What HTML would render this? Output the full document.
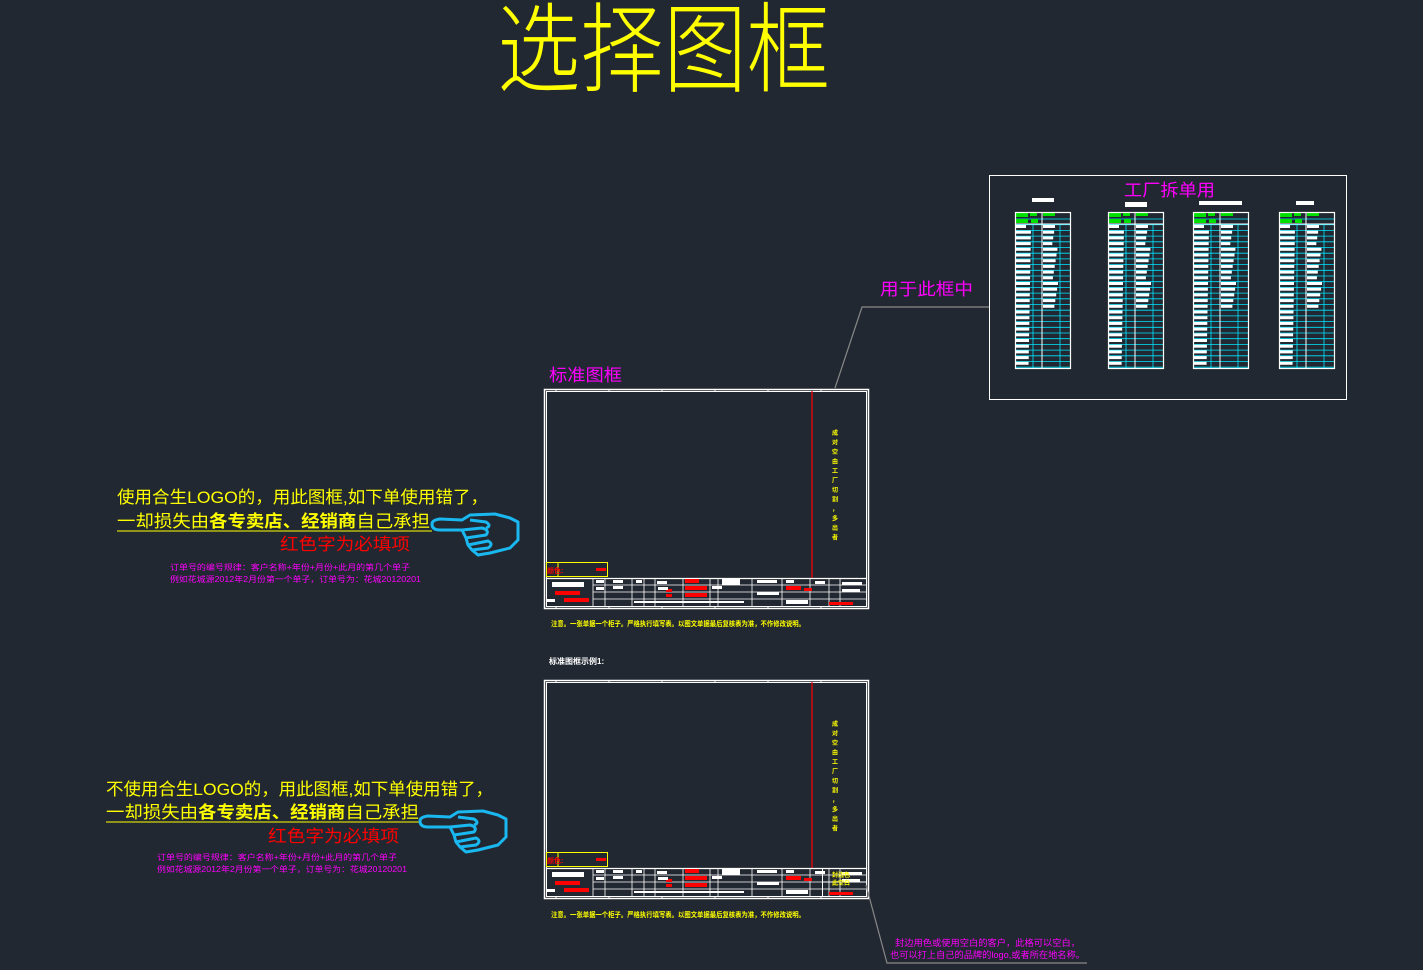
<!DOCTYPE html>
<html><head><meta charset="utf-8"><style>
html,body{margin:0;padding:0;background:#222831;width:1423px;height:970px;overflow:hidden}
svg{display:block}
text{font-family:"Liberation Sans","Noto Sans CJK SC",sans-serif}
</style></head><body>
<svg id="s" width="1423" height="970" xmlns="http://www.w3.org/2000/svg">
<rect width="1423" height="970" fill="#222831"/>
<text x="497" y="84" font-size="98" fill="#ffff00" font-family="Noto Sans CJK SC,sans-serif" font-weight="300" textLength="333" lengthAdjust="spacingAndGlyphs">选择图框</text>

<rect x="989.5" y="175.5" width="357" height="224" fill="none" stroke="#fff" stroke-width="1"/>
<text x="1124" y="196" font-size="17" fill="#ff00ff" font-family="Noto Sans CJK SC,sans-serif" textLength="91" lengthAdjust="spacingAndGlyphs">工厂拆单用</text>
<rect x="1032" y="198" width="22" height="4" fill="#fff"/>
<rect x="1125" y="202" width="22" height="5" fill="#fff"/>
<rect x="1199" y="201" width="43" height="4" fill="#fff"/>
<rect x="1296" y="201" width="18" height="4" fill="#fff"/>
<g id="tables"></g>

<text x="880" y="295" font-size="17" fill="#ff00ff" font-family="Noto Sans CJK SC,sans-serif" textLength="93" lengthAdjust="spacingAndGlyphs">用于此框中</text>
<polyline points="989,307 862,307 835,388" fill="none" stroke="#888" stroke-width="1.2"/>
<text x="549" y="381" font-size="17" fill="#ff00ff" font-family="Noto Sans CJK SC,sans-serif" textLength="73" lengthAdjust="spacingAndGlyphs">标准图框</text>

<g id="frames"></g>

<text x="551" y="626" font-size="7" fill="#ffff00" font-weight="bold" textLength="254" lengthAdjust="spacingAndGlyphs">注意。一张单据一个柜子。严格执行填写表。以图文单据最后复核表为准，不作修改说明。</text>
<text x="549" y="664" font-size="8" fill="#fff" font-weight="bold">标准图框示例1:</text>
<text x="551" y="917" font-size="7" fill="#ffff00" font-weight="bold" textLength="254" lengthAdjust="spacingAndGlyphs">注意。一张单据一个柜子。严格执行填写表。以图文单据最后复核表为准，不作修改说明。</text>

<g font-family="Noto Sans CJK SC,sans-serif">
<text x="117" y="503" font-size="17" fill="#ffff00" textLength="371" lengthAdjust="spacingAndGlyphs">使用合生LOGO的，用此图框,如下单使用错了，</text>
<text x="117" y="527" font-size="17" fill="#ffff00" textLength="313" lengthAdjust="spacingAndGlyphs">一却损失由<tspan font-weight="bold">各专卖店、经销商</tspan>自己承担</text>
<line x1="117" y1="531" x2="432" y2="531" stroke="#ffff00"/>
<text x="280" y="550" font-size="17" fill="#ff0000" textLength="130" lengthAdjust="spacingAndGlyphs">红色字为必填项</text>
<text x="170" y="570" font-size="8" fill="#ff00ff" textLength="240" lengthAdjust="spacingAndGlyphs">订单号的编号规律：客户名称+年份+月份+此月的第几个单子</text>
<text x="170" y="582" font-size="8" fill="#ff00ff" textLength="251" lengthAdjust="spacingAndGlyphs">例如花城源2012年2月份第一个单子，订单号为：花城20120201</text>

<text x="106" y="795" font-size="17" fill="#ffff00" textLength="387" lengthAdjust="spacingAndGlyphs">不使用合生LOGO的，用此图框,如下单使用错了，</text>
<text x="106" y="818" font-size="17" fill="#ffff00" textLength="313" lengthAdjust="spacingAndGlyphs">一却损失由<tspan font-weight="bold">各专卖店、经销商</tspan>自己承担</text>
<line x1="106" y1="822" x2="420" y2="822" stroke="#ffff00"/>
<text x="268" y="842" font-size="17" fill="#ff0000" textLength="131" lengthAdjust="spacingAndGlyphs">红色字为必填项</text>
<text x="157" y="860" font-size="8" fill="#ff00ff" textLength="240" lengthAdjust="spacingAndGlyphs">订单号的编号规律：客户名称+年份+月份+此月的第几个单子</text>
<text x="157" y="872" font-size="8" fill="#ff00ff" textLength="250" lengthAdjust="spacingAndGlyphs">例如花城源2012年2月份第一个单子，订单号为：花城20120201</text>

<text x="895" y="946" font-size="9" fill="#ff00ff" textLength="185" lengthAdjust="spacingAndGlyphs">封边用色或使用空白的客户，此格可以空白，</text>
<text x="890" y="958" font-size="9" fill="#ff00ff" textLength="195" lengthAdjust="spacingAndGlyphs">也可以打上自己的品牌的logo,或者所在地名称。</text>
</g>
<polyline points="866,885 887,963 1087,963" fill="none" stroke="#888" stroke-width="1.2"/>

<g id="hand1" fill="none" stroke="#1ab8f0" stroke-width="3" stroke-linejoin="round">
<path d="M432,524 Q432,520 440,519 L462,520 L470,515 L495,514 L510,518 L518,522 L518,540 L510,548 L490,553 L478,555 L472,550 L468,545 L466,538 L462,530 L440,530 Q432,530 432,524 Z"/>
<path d="M462,530 L482,528 Q490,530 486,535 L466,538"/><path d="M468,545 L488,541 Q494,544 488,548 L472,550"/><path d="M470,520 L486,522 Q492,526 486,528"/>
</g>
<use href="#hand1" transform="translate(-12,297)"/>
</svg>
<script>
const NS="http://www.w3.org/2000/svg";
function R(p,x,y,w,h,f,s,sw){const r=document.createElementNS(NS,"rect");r.setAttribute("x",x);r.setAttribute("y",y);r.setAttribute("width",w);r.setAttribute("height",h);r.setAttribute("fill",f||"none");if(s){r.setAttribute("stroke",s);r.setAttribute("stroke-width",sw||1)}p.appendChild(r);}
function L(p,x1,y1,x2,y2,c,w){const l=document.createElementNS(NS,"line");l.setAttribute("x1",x1);l.setAttribute("y1",y1);l.setAttribute("x2",x2);l.setAttribute("y2",y2);l.setAttribute("stroke",c);l.setAttribute("stroke-width",w||1);p.appendChild(l);}
function T(p,x,y,t,s,c){const e=document.createElementNS(NS,"text");e.setAttribute("x",x);e.setAttribute("y",y);e.setAttribute("font-size",s);e.setAttribute("fill",c);e.setAttribute("font-weight","bold");e.textContent=t;p.appendChild(e);}
const tg=document.getElementById("tables");
[1015,1108,1193,1279].forEach(x=>{
  const w=55,y0=212,y1=368;
  for(let y=y0+7;y<y1;y+=5.7){L(tg,x,y,x+w,y,"#00e5ff",0.8);}
  L(tg,x+18,y0+12,x+18,y1,"#00e5ff",0.8);L(tg,x+45,y0+12,x+45,y1,"#00e5ff",0.8);
  R(tg,x+1,y0+1,12,4,"#00e000");R(tg,x+15,y0+1,7,3,"#00e000");R(tg,x+28,y0+1,12,3,"#00e000");R(tg,x+1,y0+7,12,4,"#00e000");R(tg,x+16,y0+7,7,4,"#00e000");
  for(let y=y0+13;y<y1-3;y+=5.7){R(tg,x+1,y,10+((y*7)%5),3,"#fff");if(y<y1-60)R(tg,x+28,y,9+((y*3)%6),3,"#fff");}
  R(tg,x+0.5,y0+0.5,w,y1-y0,"none","#fff",1.2);
  L(tg,x,y0+12,x+w,y0+12,"#fff",1);L(tg,x+27,y0,x+27,y1,"#fff",1);
});
const fg=document.getElementById("frames");
function frame(y,h,extra){
  const x=544,w=324;
  R(fg,x+0.5,y+0.5,w,h,"none","#fff",1.5);
  R(fg,x+2.5,y+2.5,w-4,h-4,"none","#fff",1);
  const tb=y+h-30;
  L(fg,812,y+2,812,tb,"#ff0000",1.2);
  const v="成对空由工厂切割，多出者";
  for(let i=0;i<v.length;i++)T(fg,832,y+46+i*9.5,v[i],6,"#ffff00");
  R(fg,546.5,tb-15.5,61,14,"none","#ffff00",1);L(fg,558,tb-15,558,tb-1,"#ffff00");
  T(fg,547,tb-5,"颜色:",7,"#ff0000");R(fg,596,tb-10,10,3,"#ff0000");
  L(fg,546,tb+0.5,866,tb+0.5,"#fff",1.3);
  [tb+7,tb+14,tb+21].forEach(yy=>L(fg,593,yy,866,yy,"#fff",0.8));
  [593,605,632,644,655,683,710,718,752,782,810,829,840].forEach(xx=>L(fg,xx,tb,xx,tb+28,"#fff",0.8));
  const reds=[[555,tb+13,25,4],[564,tb+20,25,4],[685,tb+1,14,4],[685,tb+8,22,4],[685,tb+15,22,4],[666,tb+11,6,3],[666,tb+16,6,3],[786,tb+8,15,4],[804,tb+10,8,3],[829,tb+24,24,3]];
  reds.forEach(r=>R(fg,...r,"#ff0000"));
  const whites=[[552,tb+4,32,5],[547,tb+21,8,3],[596,tb+2,8,3],[596,tb+9,8,3],[613,tb+2,10,3],[613,tb+8,10,3],[636,tb+2,6,3],[657,tb+3,10,3],[658,tb+9,10,3],[722,tb+1,18,6],[712,tb+8,10,3],[757,tb+2,20,3],[757,tb+14,22,3],[786,tb+2,8,3],[815,tb+3,10,3],[842,tb+4,20,3],[842,tb+11,18,3],[634,tb+23,110,2],[786,tb+22,22,4]];
  whites.forEach(r=>R(fg,...r,"#fff"));
  for(let xx=x+12;xx<x+w;xx+=53){L(fg,xx,y+h-2,xx,y+h+1,"#fff");L(fg,xx,y,xx,y+3,"#fff");}
  if(extra){R(fg,822.5,tb+0.5,44,28,"none","#fff",1);L(fg,822,tb+14,866,tb+14,"#fff");T(fg,832,tb+9,"封边色",6,"#ffff00");T(fg,832,tb+17,"此空白",6,"#ffff00");}
}
frame(389,219,false);frame(680,218,true);
</script>
</body></html>
